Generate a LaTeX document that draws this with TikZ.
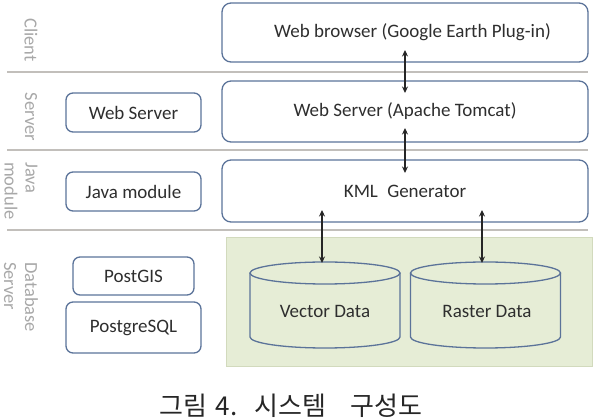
\documentclass[tikz,border=0pt]{standalone}
\usepackage{fontspec}
\setmainfont{Carlito}
\newfontfamily\krfont{Noto Sans CJK KR}
\usetikzlibrary{arrows.meta}

\definecolor{boxline}{HTML}{5B7399}
\definecolor{labeltext}{HTML}{2E2E2E}
\definecolor{sidetext}{HTML}{A8A8A8}
\definecolor{sepline}{HTML}{C2BFBB}
\definecolor{dbfill}{HTML}{E6EDD6}
\definecolor{dbline}{HTML}{D2DABD}

\tikzset{
  boxfont/.style={font=\fontsize{19}{22}\selectfont, text=labeltext},
  bigbox/.style={boxfont, draw=boxline, line width=1.3pt, rounded corners=9pt,
    minimum width=366pt, inner sep=0pt},
  smallbox/.style={boxfont, draw=boxline, line width=1.3pt, rounded corners=7pt,
    inner sep=0pt},
  sidelabel/.style={font=\fontsize{18.5}{21}\selectfont, text=sidetext,
    rotate=-90, inner sep=0pt, align=left},
  separator/.style={draw=sepline, line width=2.2pt},
  cyl/.style={draw=boxline, line width=1.3pt},
  link/.style={draw=black!85, line width=1.5pt,
    {Stealth[length=6.5pt,width=6pt]}-{Stealth[length=6.5pt,width=6pt]}},
}

\begin{document}
\begin{tikzpicture}[x=1pt,y=-1pt]
  \useasboundingbox (0,0) rectangle (595,419);

  % layer separators
  \draw[separator] (7,72) -- (588,72);
  \draw[separator] (7,150) -- (588,150);
  \draw[separator] (7,230) -- (588,230);

  % layer names
  \node[sidelabel] (lclient) at (31,40) {Client};
  \node[sidelabel] (lserver) at (31,117) {Server};
  \node[sidelabel, anchor=west] (ljava) at (21,162) {Java\\module};
  \node[sidelabel, anchor=west] (ldb) at (21,262) {Database\\Server};

  % database area
  \fill[dbfill, draw=dbline, line width=0.8pt] (226,237) rectangle (592,366);

  % component stack
  \node[bigbox, minimum height=59pt] (browser) at (405,32.5)
    {\hspace{15pt}Web browser (Google Earth Plug-in)};
  \node[bigbox, minimum height=61pt] (tomcat) at (405,111.5)
    {Web Server (Apache Tomcat)};
  \node[bigbox, minimum height=62pt] (kml) at (405,191)
    {KML\hspace{5pt} Generator};

  % software boxes
  \node[smallbox, minimum width=135pt, minimum height=39pt] (websrv) at (133.5,112.5) {Web Server};
  \node[smallbox, minimum width=135pt, minimum height=39pt] (javamod) at (133.5,191.5) {Java module};
  \node[smallbox, minimum width=121pt, minimum height=38pt] (postgis) at (133.5,276) {PostGIS};
  \node[smallbox, minimum width=135pt, minimum height=51pt] (postgres) at (133.5,327.5) {PostgreSQL};

  % data stores
  \draw[cyl] (250,273) -- (250,337)
    arc[start angle=180, end angle=360, x radius=75pt, y radius=11pt] -- (400,273);
  \draw[cyl] (325,273) ellipse[x radius=75pt, y radius=11pt];
  \node[boxfont] (vector) at (325,311) {Vector Data};

  \draw[cyl] (410.5,273) -- (410.5,337)
    arc[start angle=180, end angle=360, x radius=75pt, y radius=11pt] -- (560.5,273);
  \draw[cyl] (485.5,273) ellipse[x radius=75pt, y radius=11pt];
  \node[boxfont] (raster) at (487,311) {Raster Data};

  % connector ends
  \coordinate (c1a) at (405,50);
  \coordinate (c1b) at (405,93);
  \coordinate (c2a) at (405,128);
  \coordinate (c2b) at (405,173);
  \coordinate (c3a) at (322,210);
  \coordinate (vtop) at (322,263);
  \coordinate (c4a) at (482,210);
  \coordinate (rtop) at (482,263);

  \draw[link] (c1a) -- (c1b);
  \draw[link] (c2a) -- (c2b);
  \draw[link] (c3a) -- (vtop);
  \draw[link] (c4a) -- (rtop);

  % caption
  \node[font=\krfont\fontsize{26}{30}\selectfont, text=black!85, inner sep=0pt] (caption) at (291,406)
    {그림\hspace{8pt}4.\hspace{17pt}시스템\hspace{24pt}구성도};
\end{tikzpicture}
\end{document}
